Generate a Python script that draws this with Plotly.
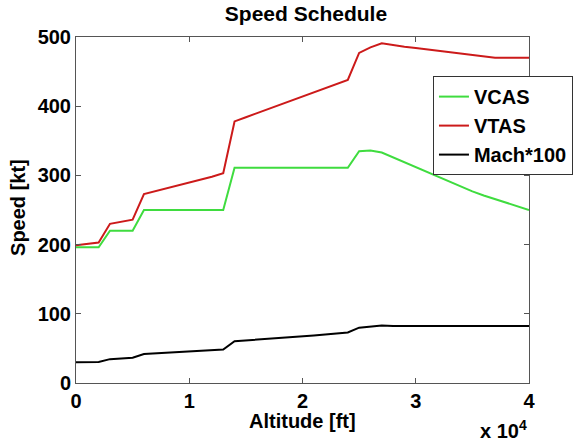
import plotly.graph_objects as go

altitude_ft = [0, 1000, 2000, 3000, 4000, 5000, 6000, 7000, 8000, 9000, 10000,
               11000, 12000, 13000, 14000, 15000, 16000, 17000, 18000, 19000, 20000,
               21000, 22000, 23000, 24000, 25000, 26000, 27000, 28000, 29000, 30000,
               31000, 32000, 33000, 34000, 35000, 36000, 37000, 38000, 39000, 40000]

vcas = [196, 196, 196, 220, 220, 220, 250, 250, 250, 250, 250,
        250, 250, 250, 311, 311, 311, 311, 311, 311, 311,
        311, 311, 311, 311, 335, 336, 333, 326, 318, 311,
        304, 297, 290, 284, 277, 271, 266, 260, 255, 250]

vtas = [199, 201, 203, 230, 233, 236, 273, 277, 281, 286, 290,
        294, 298, 303, 378, 384, 390, 396, 402, 408, 414,
        420, 426, 432, 438, 477, 485, 491, 488, 486, 484,
        482, 479, 477, 475, 473, 471, 470, 470, 470, 470]

mach100 = [30, 30, 30.5, 34.5, 35.5, 36.5, 42, 43, 44, 44.5, 45.5,
           46.5, 47.5, 48.5, 60.5, 61.5, 62.5, 63.5, 65, 66, 67,
           68.5, 70, 71.5, 73, 80, 82, 83, 82.5, 82.5, 82.5,
           82.5, 82.5, 82.5, 82.5, 82.5, 82.5, 82.5, 82.5, 82.5, 82.5]

series_names = ["VCAS", "VTAS", "Mach*100"]
series_colors = ["#3fdc3f", "#cc1a1a", "#000000"]

x_tickvals = [0, 10000, 20000, 30000, 40000]
x_ticktext = ["0", "1", "2", "3", "4"]
y_tickvals = [0, 100, 200, 300, 400, 500]

FONT = "Liberation Sans, Arial, Helvetica, sans-serif"

fig = go.Figure()
for name, vals, col in zip(series_names, [vcas, vtas, mach100], series_colors):
    fig.add_trace(go.Scatter(x=altitude_ft, y=vals, mode="lines", name=f"<b>{name}</b>",
                             line=dict(color=col, width=2)))

axis_common = dict(showline=True, mirror="ticks", linecolor="#555555", linewidth=1,
                   ticks="inside", ticklen=5, tickcolor="#555555", showgrid=False,
                   zeroline=False,
                   tickfont=dict(family=FONT, size=20, color="#000000"))

fig.update_layout(
    width=573, height=441,
    margin=dict(l=76, r=44, t=37, b=58, autoexpand=False),
    paper_bgcolor="white", plot_bgcolor="white",
    font=dict(family=FONT, size=20, color="#000000"),
    title=dict(text="<b>Speed Schedule</b>", x=0.534, xanchor="center",
               y=0.968, yanchor="middle", font=dict(family=FONT, size=21)),
    xaxis=dict(range=[0, 40000], tickvals=x_tickvals, ticktext=[f"<b>{t}</b>" for t in x_ticktext],
               **axis_common),
    yaxis=dict(range=[0, 500], tickvals=y_tickvals, ticktext=[f"<b>{v}</b>" for v in y_tickvals],
               **axis_common),
    showlegend=True,
    legend=dict(x=0.788, y=0.887, xanchor="left", yanchor="top",
                bgcolor="white", bordercolor="#333333", borderwidth=1,
                font=dict(family=FONT, size=20, color="#000000")),
    annotations=[
        dict(text="<b>Altitude [ft]</b>", xref="paper", yref="paper", x=0.5, y=-0.11,
             xanchor="center", yanchor="middle", showarrow=False,
             font=dict(family=FONT, size=20)),
        dict(text="<b>x 10<sup>4</sup></b>", xref="paper", yref="paper", x=0.943, y=-0.135,
             xanchor="center", yanchor="middle", showarrow=False,
             font=dict(family=FONT, size=20)),
        dict(text="<b>Speed [kt]</b>", xref="paper", yref="paper", x=-0.128, y=0.506,
             xanchor="center", yanchor="middle", showarrow=False, textangle=-90,
             font=dict(family=FONT, size=20)),
    ],
)

fig.write_html("out.html", config={"displayModeBar": False},
               post_script="document.body.style.margin='0px';")
